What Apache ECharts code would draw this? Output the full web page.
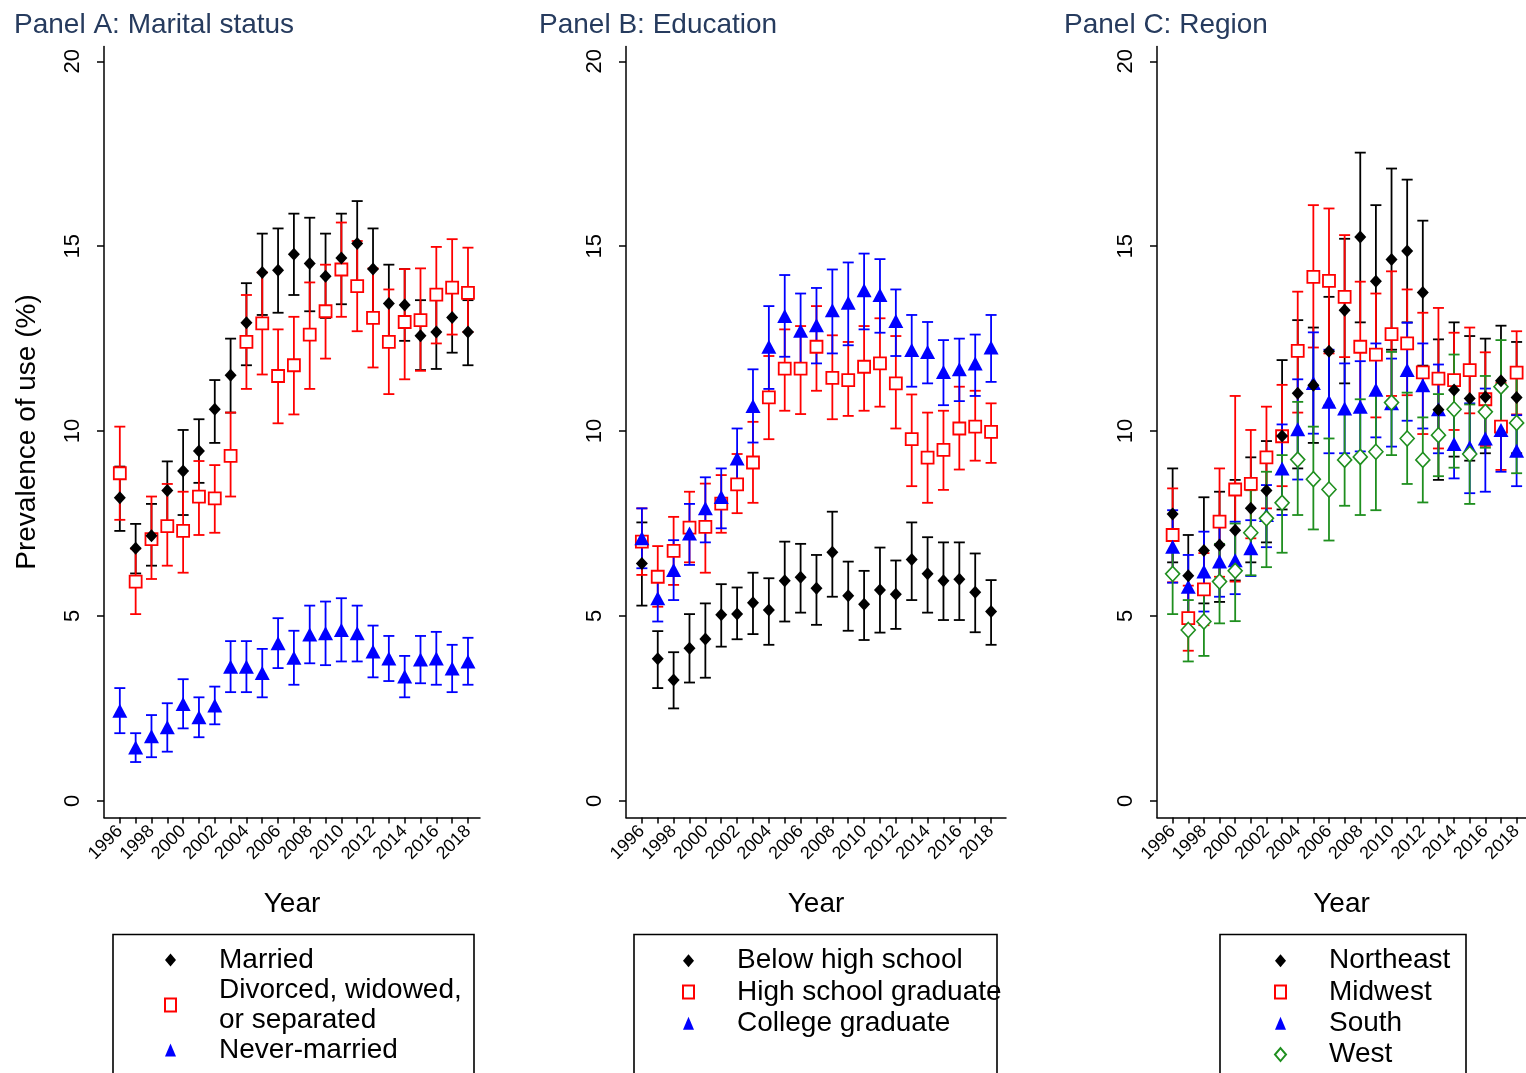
<!DOCTYPE html>
<html><head><meta charset="utf-8">
<script src="https://cdn.jsdelivr.net/npm/echarts@6.0.0/dist/echarts.min.js"></script>
<style>html,body{margin:0;padding:0;background:#fff}#c{width:1526px;height:1073px}</style>
</head><body><div id="c"></div>
<script>
// ---------------- DATA ----------------
const years = [1996,1997,1998,1999,2000,2001,2002,2003,2004,2005,2006,2007,2008,2009,2010,2011,2012,2013,2014,2015,2016,2017,2018];
const xTickYears = [1996,1997,1998,1999,2000,2001,2002,2003,2004,2005,2006,2007,2008,2009,2010,2011,2012,2013,2014,2015,2016,2017,2018];
const xLabelYears = [1996,1998,2000,2002,2004,2006,2008,2010,2012,2014,2016,2018];
const yTicks = [0,5,10,15,20];

const panelTitles = ['Panel A: Marital status','Panel B: Education','Panel C: Region'];

// Panel A: Marital status
const marriedVal = [8.20,6.83,7.17,8.39,8.92,9.46,10.59,11.51,12.93,14.29,14.35,14.78,14.53,14.19,14.68,15.07,14.38,13.45,13.41,12.58,12.68,13.07,12.68];
const marriedLo  = [7.30,6.15,6.36,7.50,7.73,8.60,9.68,10.50,11.78,13.14,13.20,13.68,13.24,13.06,13.43,13.93,13.20,12.41,12.44,11.65,11.68,12.12,11.78];
const marriedHi  = [9.04,7.49,8.03,9.18,10.03,10.32,11.38,12.50,14.00,15.34,15.48,15.88,15.77,15.34,15.88,16.22,15.48,14.50,14.38,13.54,13.70,14.02,13.54];

const divorcedVal = [8.86,5.93,7.08,7.43,7.30,8.23,8.18,9.33,12.41,12.91,11.49,11.78,12.61,13.24,14.37,13.92,13.06,12.41,12.95,13.00,13.69,13.88,13.74];
const divorcedLo  = [7.60,5.05,6.00,6.36,6.17,7.19,7.25,8.23,11.14,11.53,10.21,10.45,11.14,11.96,13.09,12.70,11.72,11.00,11.40,11.63,12.37,12.61,12.68];
const divorcedHi  = [10.12,6.82,8.23,8.57,8.36,9.19,9.08,10.50,13.68,14.29,12.75,13.09,14.02,14.50,15.64,15.14,14.40,13.83,14.38,14.40,14.98,15.19,14.96];

const neverVal = [2.44,1.44,1.75,1.99,2.62,2.26,2.58,3.63,3.63,3.46,4.26,3.87,4.50,4.53,4.62,4.53,4.04,3.85,3.36,3.82,3.85,3.58,3.77];
const neverLo  = [1.83,1.05,1.18,1.33,1.96,1.72,2.07,2.94,2.94,2.80,3.59,3.14,3.72,3.67,3.77,3.77,3.34,3.24,2.80,3.18,3.14,2.94,3.14];
const neverHi  = [3.05,1.83,2.32,2.64,3.29,2.80,3.09,4.32,4.32,4.11,4.94,4.60,5.28,5.39,5.48,5.28,4.74,4.46,3.92,4.46,4.57,4.22,4.41];

// Panel B: Education
const belowHSVal = [6.42,3.84,3.27,4.13,4.38,5.03,5.05,5.36,5.16,5.95,6.05,5.75,6.72,5.55,5.32,5.70,5.59,6.53,6.14,5.95,5.99,5.64,5.12];
const belowHSLo  = [5.28,3.05,2.50,3.20,3.33,4.17,4.37,4.51,4.22,4.85,5.09,4.76,5.52,4.60,4.35,4.55,4.65,5.43,5.09,4.89,4.89,4.56,4.22];
const belowHSHi  = [7.53,4.59,4.02,5.05,5.34,5.86,5.77,6.17,6.02,7.01,6.95,6.65,7.82,6.47,6.22,6.85,6.50,7.53,7.13,6.99,6.99,6.69,5.97];

const hsGradVal = [7.01,6.06,6.76,7.39,7.41,8.04,8.56,9.15,10.91,11.69,11.69,12.28,11.44,11.38,11.74,11.83,11.29,9.78,9.28,9.49,10.07,10.12,9.98];
const hsGradLo  = [6.11,5.25,5.84,6.45,6.17,7.25,7.78,8.06,9.78,10.55,10.46,11.09,10.32,10.41,10.55,10.66,10.07,8.51,8.06,8.41,8.96,9.20,9.14];
const hsGradHi  = [7.91,6.89,7.68,8.36,8.58,8.81,9.38,10.25,12.03,12.75,12.84,13.38,12.59,12.41,12.84,13.05,12.57,10.99,10.50,10.55,11.20,11.09,10.75];

const collegeVal = [7.10,5.48,6.24,7.23,7.91,8.22,9.26,10.68,12.28,13.11,12.71,12.86,13.27,13.47,13.81,13.68,12.98,12.19,12.14,11.60,11.67,11.83,12.26];
const collegeLo  = [6.29,4.85,5.43,6.38,6.99,7.37,8.41,9.69,11.14,12.01,11.60,11.83,12.10,12.32,12.75,12.66,12.03,11.20,11.29,10.70,10.81,10.95,11.33];
const collegeHi  = [7.91,6.10,7.05,8.03,8.75,8.99,10.07,11.67,13.38,14.22,13.72,13.87,14.37,14.56,14.80,14.65,13.83,13.14,12.95,12.46,12.50,12.61,13.14];

// Panel C: Region
const northeastVal = [7.76,6.09,6.77,6.92,7.32,7.91,8.39,9.87,11.02,11.24,12.16,13.27,15.25,14.05,14.64,14.87,13.75,10.58,11.11,10.88,10.92,11.36,10.91];
const northeastLo  = [6.45,5.00,5.34,5.38,5.96,6.45,6.99,7.88,8.99,9.68,10.69,11.29,12.94,11.92,12.20,12.94,11.77,8.68,9.31,9.20,9.40,9.87,9.40];
const northeastHi  = [8.99,7.19,8.21,8.36,8.68,9.29,9.73,11.92,13.00,12.80,13.63,15.20,17.53,16.11,17.10,16.80,15.69,12.48,12.94,12.57,12.50,12.85,12.41];

const midwestVal = [7.19,4.94,5.72,7.55,8.42,8.57,9.29,9.86,12.17,14.17,14.06,13.63,12.28,12.07,12.62,12.37,11.59,11.42,11.38,11.65,10.86,10.12,11.58];
const midwestLo  = [5.91,4.06,4.75,6.06,5.93,7.10,7.91,8.51,10.50,12.26,12.10,12.00,10.52,10.37,10.95,10.97,9.92,9.53,10.03,10.48,9.60,8.95,10.45];
const midwestHi  = [8.45,5.82,6.70,8.99,10.95,10.03,10.66,11.25,13.77,16.11,16.02,15.30,14.04,13.72,14.32,13.83,13.20,13.33,12.66,12.80,12.13,11.30,12.70];

const southVal = [6.87,5.79,6.20,6.47,6.51,6.83,7.73,8.99,10.05,11.30,10.79,10.61,10.66,11.12,10.75,11.65,11.24,10.59,9.65,9.56,9.80,10.03,9.47];
const southLo  = [5.90,4.93,5.12,5.52,5.59,6.08,6.86,7.73,8.69,9.93,9.40,9.40,9.45,9.83,9.58,10.28,10.07,9.40,8.72,8.32,8.36,8.90,8.51];
const southHi  = [7.86,6.65,7.28,7.42,7.55,7.59,8.54,10.18,11.40,12.67,12.20,11.83,11.89,12.37,11.96,12.93,12.37,11.80,10.55,10.75,11.15,11.15,10.43];

const westVal = [6.14,4.62,4.85,5.93,6.22,7.25,7.64,8.06,9.23,8.70,8.42,9.22,9.30,9.44,10.77,9.80,9.22,9.89,10.59,9.38,10.52,11.20,10.22];
const westLo  = [5.05,3.77,3.92,4.80,4.86,6.10,6.32,6.71,7.73,7.34,7.04,7.98,7.73,7.86,9.35,8.57,8.07,8.78,9.01,8.03,9.55,9.95,8.86];
const westHi  = [7.23,5.43,5.80,6.95,7.50,8.40,8.90,9.35,10.79,10.12,9.80,10.50,10.86,11.00,12.14,11.04,10.37,11.00,12.07,10.72,11.49,12.46,11.65];

// ---------------- CHART ----------------
const FONT = '"Liberation Sans", Arial, sans-serif';
const BLACK = '#000000', RED = '#ff0000', BLUE = '#0000ff', GREEN = '#1f8f1f';

const grids = [
  {left: 104, top: 46.5, width: 376, height: 771},
  {left: 626, top: 46.5, width: 380, height: 771},
  {left: 1157, top: 46.5, width: 369, height: 771}
];
const xMax = [2018.76, 2018.94, 2018.6];

function zip3(a, b, c) { return years.map((y, i) => [y, b[i], c[i]]); }
function zip2(v) { return years.map((y, i) => [y, v[i]]); }

function errSeries(name, gi, lo, hi, color) {
  return {
    type: 'custom', name: name + '_ci', xAxisIndex: gi, yAxisIndex: gi,
    data: zip3(null, lo, hi), encode: {x: 0, y: [1, 2]}, clip: false, silent: true,
    renderItem: function (params, api) {
      const x = api.value(0);
      const p1 = api.coord([x, api.value(1)]);
      const p2 = api.coord([x, api.value(2)]);
      const w = 5.5;
      const st = {stroke: color, lineWidth: 1.8, fill: null};
      return {type: 'group', children: [
        {type: 'line', shape: {x1: p1[0], y1: p1[1], x2: p2[0], y2: p2[1]}, style: st},
        {type: 'line', shape: {x1: p1[0] - w, y1: p1[1], x2: p1[0] + w, y2: p1[1]}, style: st},
        {type: 'line', shape: {x1: p2[0] - w, y1: p2[1], x2: p2[0] + w, y2: p2[1]}, style: st}
      ]};
    }
  };
}
function markSeries(name, gi, val, symbol, size, itemStyle) {
  return {
    type: 'scatter', name: name, xAxisIndex: gi, yAxisIndex: gi,
    data: zip2(val), symbol: symbol, symbolSize: size, itemStyle: itemStyle,
    clip: false, silent: true, animation: false
  };
}

const sDiamond = {color: BLACK, opacity: 1};
const sSquare = {color: '#ffffff', borderColor: RED, borderWidth: 1.8, opacity: 1};
const sTri = {color: BLUE, opacity: 1};
const sHDiamond = {color: '#ffffff', borderColor: GREEN, borderWidth: 1.6, opacity: 1};

const groups = [
  // [name, grid, val, lo, hi, color, symbol, size, style]
  ['Married', 0, marriedVal, marriedLo, marriedHi, BLACK, 'diamond', [12, 13], sDiamond],
  ['Divorced, widowed,\nor separated', 0, divorcedVal, divorcedLo, divorcedHi, RED, 'rect', [12, 12], sSquare],
  ['Never-married', 0, neverVal, neverLo, neverHi, BLUE, 'triangle', [15, 14], sTri],
  ['Below high school', 1, belowHSVal, belowHSLo, belowHSHi, BLACK, 'diamond', [12, 13], sDiamond],
  ['High school graduate', 1, hsGradVal, hsGradLo, hsGradHi, RED, 'rect', [12, 12], sSquare],
  ['College graduate', 1, collegeVal, collegeLo, collegeHi, BLUE, 'triangle', [15, 14], sTri],
  ['Northeast', 2, northeastVal, northeastLo, northeastHi, BLACK, 'diamond', [12, 13], sDiamond],
  ['Midwest', 2, midwestVal, midwestLo, midwestHi, RED, 'rect', [12, 12], sSquare],
  ['South', 2, southVal, southLo, southHi, BLUE, 'triangle', [15, 14], sTri],
  ['West', 2, westVal, westLo, westHi, GREEN, 'diamond', [14, 15], sHDiamond]
];

const series = [];
groups.forEach(g => series.push(errSeries(g[0], g[1], g[3], g[4], g[5])));
const markerOrder = [RED, BLUE, GREEN, BLACK];
markerOrder.forEach(col => {
  groups.filter(g => g[5] === col).forEach(g => series.push(markSeries(g[0], g[1], g[2], g[6], g[7], g[8])));
});

const xAxes = grids.map((g, i) => ({
  type: 'value', gridIndex: i, min: 1995, max: xMax[i],
  name: 'Year', nameLocation: 'middle', nameGap: 73,
  nameTextStyle: {fontFamily: FONT, fontSize: 28, color: '#000'},
  axisLine: {show: true, onZero: false, lineStyle: {color: '#000', width: 1.5}},
  axisTick: {show: true, length: 6, lineStyle: {color: '#000', width: 1.5}, customValues: xTickYears},
  axisLabel: {rotate: 45, fontFamily: FONT, fontSize: 18, color: '#000', margin: 11, customValues: xLabelYears,
    formatter: v => String(Math.round(v))},
  splitLine: {show: false}
}));
const yAxes = grids.map((g, i) => ({
  type: 'value', gridIndex: i, min: -0.45, max: 20.4,
  name: i === 0 ? 'Prevalence of use (%)' : '', nameLocation: 'middle', nameGap: 63,
  nameTextStyle: {fontFamily: FONT, fontSize: 28, color: '#000'},
  axisLine: {show: true, onZero: false, lineStyle: {color: '#000', width: 1.5}},
  axisTick: {show: true, length: 7, lineStyle: {color: '#000', width: 1.5}, customValues: yTicks},
  axisLabel: {rotate: 90, fontFamily: FONT, fontSize: 22, color: '#000', margin: 20, customValues: yTicks,
    formatter: v => String(Math.round(v))},
  splitLine: {show: false}
}));

const legendText = {fontFamily: FONT, fontSize: 28, color: '#000', padding: [0, 0, 0, 38]};
const legends = [
  {left: 164, top: 945, data: ['Married', 'Divorced, widowed,\nor separated', 'Never-married'], lh: 30},
  {left: 682, top: 945, data: ['Below high school', 'High school graduate', 'College graduate'], lh: 31.3},
  {left: 1274, top: 945, data: ['Northeast', 'Midwest', 'South', 'West'], lh: 31.3}
].map(l => ({
  left: l.left, top: l.top, orient: 'vertical', itemGap: 0, itemWidth: 11, itemHeight: 13,
  selectedMode: false, padding: 0,
  textStyle: Object.assign({}, legendText, {lineHeight: l.lh}),
  data: l.data
}));

const titles = [
  {text: panelTitles[0], left: 14, top: 11},
  {text: panelTitles[1], left: 539, top: 11},
  {text: panelTitles[2], left: 1064, top: 11}
].map(t => Object.assign(t, {padding: 0, textStyle: {fontFamily: FONT, fontSize: 28, fontWeight: 'normal', color: '#263b5e'}}));

const boxes = [[113, 474], [634, 997], [1220, 1466]].map(b => ({
  type: 'rect', shape: {x: b[0], y: 934.5, width: b[1] - b[0], height: 200},
  style: {fill: 'none', stroke: '#000', lineWidth: 1.6}, silent: true, z: 0
}));

const chart = echarts.init(document.getElementById('c'), null, {renderer: 'canvas'});
chart.setOption({
  backgroundColor: '#ffffff',
  animation: false,
  title: titles,
  grid: grids,
  xAxis: xAxes,
  yAxis: yAxes,
  legend: legends,
  graphic: boxes,
  series: series
});
</script>
</body></html>
